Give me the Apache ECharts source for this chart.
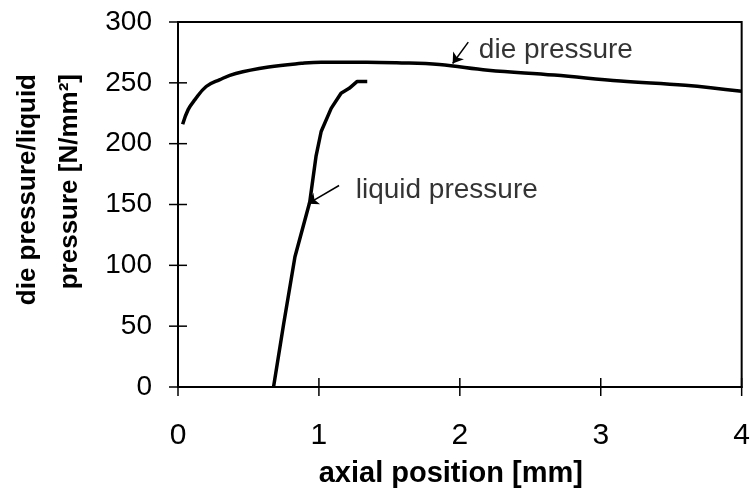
<!DOCTYPE html>
<html>
<head>
<meta charset="utf-8">
<script src="https://cdn.jsdelivr.net/npm/echarts@6/dist/echarts.min.js"></script>
<style>html,body{margin:0;padding:0;background:#fff}#c{width:753px;height:493px}</style>
</head>
<body>
<div id="c"></div>
<script>
// ---- data ----
const diePressureX = [0.033, 0.072, 0.119, 0.2, 0.294, 0.41, 0.643, 0.876, 1.016, 1.34, 1.55, 1.855, 2.2, 2.67, 3.14, 3.6, 4.0];
const diePressureY = [216, 228, 236, 247, 252.5, 257.7, 263, 266, 267, 267, 266.5, 265, 260.4, 256.4, 251.5, 248, 243];
const liquidPressureX = [0.678, 0.75, 0.83, 0.935, 0.98, 1.016, 1.087, 1.157, 1.215, 1.27, 1.343];
const liquidPressureY = [0, 52, 107, 152, 190, 210, 229, 241.5, 245.5, 251, 251];
const annotationTexts = ['die pressure', 'liquid pressure'];
const annotationTextPos = [[2.135, 276.7], [1.261, 161.3]];
const arrowTails = [[2.06, 283.5], [1.143, 165.6]];
const arrowTips = [[1.949, 265.9], [0.923, 150.7]];
const xTickValues = [0, 1, 2, 3, 4];
const yTickValues = [0, 50, 100, 150, 200, 250, 300];
const xTitle = 'axial position [mm]';
const yTitleLines = ['die pressure/liquid', 'pressure [N/mm²]'];
const xMin = 0, xMax = 4, xStep = 1;
const yMin = 0, yMax = 300, yStep = 50;

const zip = (a, b) => a.map((v, i) => [v, b[i]]);
const FONT = 'Arial, "Liberation Sans", Helvetica, sans-serif';
const TICK = 9;

const chart = echarts.init(document.getElementById('c'), null, {renderer: 'canvas'});

chart.setOption({
  backgroundColor: '#fff',
  animation: false,
  grid: {left: 178, right: 4, top: 22, bottom: 101, show: true, borderColor: '#000', borderWidth: 2, containLabel: false},
  xAxis: {
    type: 'value', min: xMin, max: xMax, interval: xStep, splitLine: {show: false},
    axisLine: {show: true, onZero: false, lineStyle: {color: '#000', width: 2}},
    axisTick: {show: false},
    axisLabel: {show: true, color: '#000', fontSize: 30, fontFamily: FONT, margin: 34},
    name: xTitle, nameLocation: 'middle', nameGap: 72,
    nameTextStyle: {color: '#000', fontSize: 29, fontWeight: 'bold', fontFamily: FONT, padding: [0, 18, 0, 0]}
  },
  yAxis: {
    type: 'value', min: yMin, max: yMax, interval: yStep, splitLine: {show: false},
    axisLine: {show: true, onZero: false, lineStyle: {color: '#000', width: 2}},
    axisTick: {show: false},
    axisLabel: {show: true, color: '#000', fontSize: 28, fontFamily: FONT, margin: 26}
  },
  graphic: [{
    type: 'text', x: 49, y: 74, rotation: Math.PI / 2,
    style: {text: yTitleLines.join('\n'), align: 'right', verticalAlign: 'middle', lineHeight: 42,
            font: 'bold 26px ' + FONT, fill: '#000'}
  }],
  series: [
    {
      name: 'die pressure', type: 'line', data: zip(diePressureX, diePressureY),
      showSymbol: false, smooth: 0.4,
      lineStyle: {color: '#000', width: 3.5}, silent: true,
      markLine: {
        silent: true, symbol: ['none', 'arrow'], symbolSize: 10,
        lineStyle: {color: '#000', width: 1.5, type: 'solid'}, label: {show: false},
        data: arrowTails.map((t, i) => [{coord: t}, {coord: arrowTips[i]}])
      }
    },
    {
      name: 'liquid pressure', type: 'line', data: zip(liquidPressureX, liquidPressureY),
      showSymbol: false, smooth: false,
      lineStyle: {color: '#000', width: 3.5}, silent: true
    },
    {
      type: 'scatter', symbolSize: 0, silent: true,
      data: annotationTextPos.map((p, i) => [p[0], p[1], annotationTexts[i]]),
      label: {show: true, position: 'right', distance: 0, formatter: p => p.value[2],
              color: '#000', fontSize: 28, fontFamily: FONT}
    },
    // crossing tick marks on the y axis
    {
      type: 'scatter', silent: true, clip: false, z: 5,
      symbol: 'rect', symbolSize: [2 * TICK, 1.5],
      itemStyle: {color: '#000', opacity: 1},
      data: yTickValues.map(v => [xMin, v])
    },
    // crossing tick marks on the x axis
    {
      type: 'scatter', silent: true, clip: false, z: 5,
      symbol: 'rect', symbolSize: [1.5, 2 * TICK],
      itemStyle: {color: '#000', opacity: 1},
      data: xTickValues.map(v => [v, yMin])
    }
  ]
});
</script>
</body>
</html>
